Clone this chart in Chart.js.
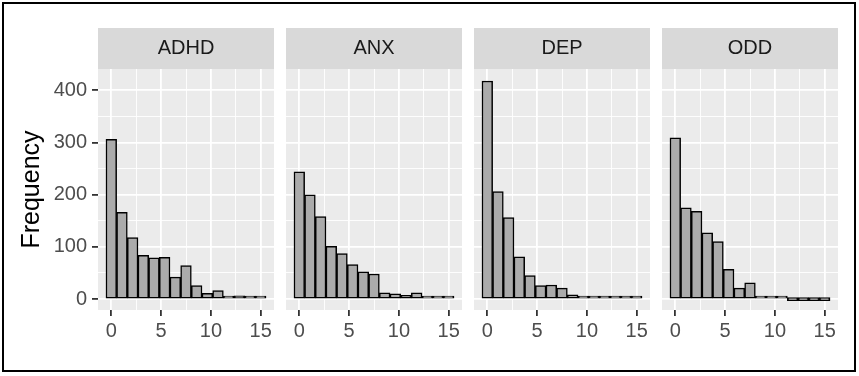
<!DOCTYPE html>
<html>
<head>
<meta charset="utf-8">
<script src="https://cdn.jsdelivr.net/npm/chart.js@4.4.1/dist/chart.umd.min.js"></script>
<style>
html,body{margin:0;padding:0;background:#fff;}
#wrap{position:relative;width:859px;height:376px;overflow:hidden;background:#fff;}
#frame{position:absolute;left:2px;top:2px;width:854px;height:370px;box-sizing:border-box;border:2px solid #000;}
canvas{position:absolute;left:0;top:0;}
</style>
</head>
<body>
<div id="wrap"><div id="frame"></div></div>
<script>
// ---- data ----
const categories = ['ADHD', 'ANX', 'DEP', 'ODD'];
const binCenters = [0, 1.0714, 2.1429, 3.2143, 4.2857, 5.3571, 6.4286, 7.5, 8.5714, 9.6429, 10.7143, 11.7857, 12.8571, 13.9286, 15];
const adhd = [306, 166, 118, 84, 79, 80, 42, 64, 26, 11, 16, 2, 6, 3, 1];
const anx  = [244, 200, 158, 101, 87, 66, 52, 48, 12, 10, 7, 12, 2, 2, 2];
const dep  = [418, 206, 156, 81, 45, 26, 27, 21, 8, 3, 3, 3, 3, 2, 2];
const odd  = [309, 175, 168, 127, 110, 57, 21, 31, 5, 4, 1, 0, 0, 0, 0];
const seriesList = [adhd, anx, dep, odd];
const yMajor = [0, 100, 200, 300, 400];
const yMinor = [50, 150, 250, 350];
const xMajor = [0, 5, 10, 15];
const xMinor = [2.5, 7.5, 12.5];
const yAxisTitle = 'Frequency';

// ---- layout ----
const W = 859, H = 376;
const panelLeft = [98, 286, 474, 662];
const panelWidth = 176;
const panelTop = 69, panelBottom = 310, stripH = 41;
const xMin = -1.3357, xMax = 16.3357, yMin = -21, yMax = 441;
const FONT = "'Liberation Sans', Arial, Helvetica, sans-serif";

const yTicks = yMajor.concat(yMinor).sort((a, b) => a - b);
const xTicks = xMajor.concat(xMinor).sort((a, b) => a - b);

const bgPlugin = {
  id: 'ggBg',
  beforeDraw(chart) {
    const a = chart.chartArea, ctx = chart.ctx;
    ctx.save();
    ctx.fillStyle = '#EBEBEB';
    ctx.fillRect(a.left, a.top, a.right - a.left, a.bottom - a.top);
    ctx.fillStyle = '#D9D9D9';
    ctx.fillRect(a.left, a.top - stripH, a.right - a.left, stripH);
    ctx.restore();
  }
};

const wrap = document.getElementById('wrap');

function isMajor(list, ctx) {
  return ctx && ctx.tick && list.includes(ctx.tick.value);
}

categories.forEach((cat, i) => {
  const canvas = document.createElement('canvas');
  canvas.width = W; canvas.height = H;
  canvas.style.width = W + 'px'; canvas.style.height = H + 'px';
  wrap.appendChild(canvas);
  const left = panelLeft[i], right = left + panelWidth;
  const vals = seriesList[i];
  new Chart(canvas, {
    type: 'bar',
    data: {
      datasets: [{
        data: binCenters.map((x, k) => ({ x: x, y: vals[k] })),
        backgroundColor: '#ABABAB',
        borderColor: '#000000',
        borderWidth: 1.5,
        borderSkipped: false,
        barPercentage: 1,
        categoryPercentage: 1,
        minBarLength: 3
      }]
    },
    options: {
      responsive: false,
      animation: false,
      devicePixelRatio: 1,
      layout: { padding: { left: 0, top: panelTop - stripH, right: W - right, bottom: 0 } },
      plugins: {
        legend: { display: false },
        tooltip: { enabled: false },
        title: {
          display: true, text: cat, fullSize: false, color: '#1A1A1A',
          font: { family: FONT, size: 20, weight: 'normal', lineHeight: 1.2 },
          padding: { top: 8.5, bottom: 8.5 }
        }
      },
      scales: {
        x: {
          type: 'linear', min: xMin, max: xMax, offset: false,
          grid: {
            offset: false, color: '#FFFFFF',
            lineWidth: c => isMajor(xMajor, c) ? 1.8 : 0.9,
            drawTicks: true, tickLength: 6,
            tickColor: c => isMajor(xMajor, c) ? '#333333' : 'rgba(0,0,0,0)',
            tickWidth: 1.8
          },
          border: { display: false },
          afterBuildTicks: ax => { ax.ticks = xTicks.map(v => ({ value: v })); },
          afterFit: ax => { ax.height = H - panelBottom; },
          ticks: {
            autoSkip: false, maxRotation: 0, minRotation: 0, padding: 3,
            color: '#4D4D4D', font: { family: FONT, size: 20 },
            callback: v => xMajor.includes(v) ? String(v) : ''
          }
        },
        y: {
          type: 'linear', min: yMin, max: yMax,
          grid: {
            color: '#FFFFFF',
            lineWidth: c => isMajor(yMajor, c) ? 1.8 : 0.9,
            drawTicks: i === 0, tickLength: 6,
            tickColor: c => isMajor(yMajor, c) ? '#333333' : 'rgba(0,0,0,0)',
            tickWidth: 1.8
          },
          border: { display: false },
          afterBuildTicks: ax => { ax.ticks = yTicks.map(v => ({ value: v })); },
          afterFit: ax => { ax.width = left; },
          ticks: {
            display: i === 0, padding: 5,
            color: '#4D4D4D', font: { family: FONT, size: 20 },
            callback: v => yMajor.includes(v) ? String(v) : ''
          },
          title: i === 0 ? {
            display: true, text: yAxisTitle, color: '#000000',
            font: { family: FONT, size: 25, weight: 'normal', lineHeight: 1.2 },
            padding: { top: 17.5, bottom: 0 }
          } : { display: false }
        }
      }
    },
    plugins: [bgPlugin]
  });
});
</script>
</body>
</html>
